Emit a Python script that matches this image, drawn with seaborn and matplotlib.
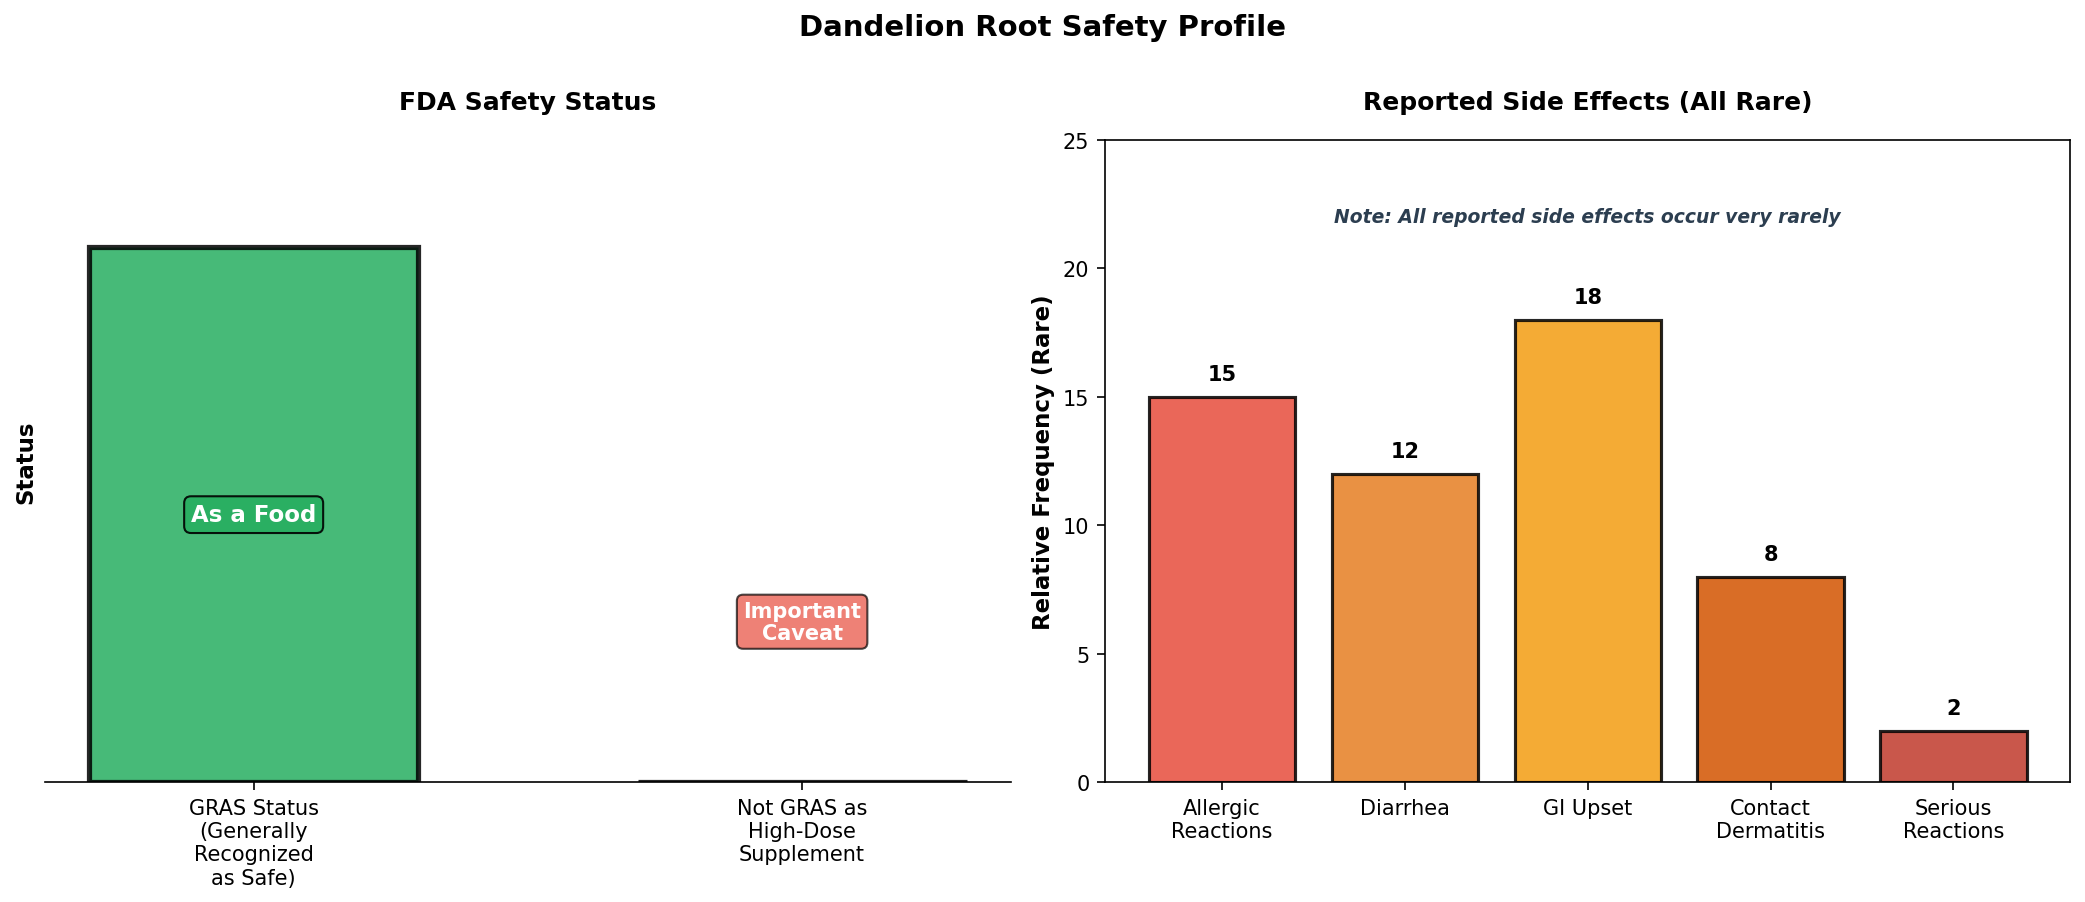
import numpy as np
import pandas as pd
import matplotlib
matplotlib.use("Agg")
import matplotlib.pyplot as plt
import seaborn as sns

# data
status_labels = ["GRAS Status\n(Generally\nRecognized\nas Safe)", "Not GRAS as\nHigh-Dose\nSupplement"]
status_values = [1, 0]
status_colors = ["#27ae60", "#e74c3c"]

effects = ["Allergic\nReactions", "Diarrhea", "GI Upset", "Contact\nDermatitis", "Serious\nReactions"]
effect_freq = [15, 12, 18, 8, 2]
effect_colors = ["#e74c3c", "#e67e22", "#f39c12", "#d35400", "#c0392b"]

sns.set_style("white")
plt.rcParams["font.family"] = ["DejaVu Sans"]
for k in ["text.color", "axes.labelcolor", "xtick.color", "ytick.color", "axes.edgecolor"]:
    plt.rcParams[k] = "black"

fig, (ax1, ax2) = plt.subplots(1, 2, figsize=(13.9, 6.02), dpi=150)

# left panel
df1 = pd.DataFrame({"label": status_labels, "value": status_values})
sns.barplot(data=df1, x="label", y="value", hue="label", palette=status_colors,
            width=0.6, alpha=0.85, saturation=1, edgecolor="black", linewidth=2.5,
            legend=False, ax=ax1)
ax1.set_ylim(0, 1.2)
ax1.set_xlim(-0.38, 1.38)
ax1.set_yticks([])
ax1.set_xlabel("")
ax1.set_ylabel("Status", fontsize=11, fontweight="bold")
ax1.set_title("FDA Safety Status", fontsize=12, fontweight="bold", pad=15)
sns.despine(ax=ax1, left=True)
ax1.tick_params(axis="x", labelsize=10, length=4, bottom=True)
ax1.text(0, 0.5, "As a Food", ha="center", va="center", fontsize=11,
         fontweight="bold", color="white",
         bbox=dict(boxstyle="round,pad=0.3", facecolor="#27ae60", alpha=0.9,
                   edgecolor="black"))
ax1.text(1, 0.3, "Important\nCaveat", ha="center", va="center", fontsize=10,
         fontweight="bold", color="white", linespacing=1.1,
         bbox=dict(boxstyle="round,pad=0.3", facecolor="#e74c3c", alpha=0.7,
                   edgecolor="black"))

# right panel
df2 = pd.DataFrame({"effect": effects, "freq": effect_freq})
sns.barplot(data=df2, x="effect", y="freq", hue="effect", palette=effect_colors,
            width=0.8, alpha=0.85, saturation=1, edgecolor="black", linewidth=1.5,
            legend=False, ax=ax2)
for i, v in enumerate(effect_freq):
    ax2.text(i, v + 0.5, str(v), ha="center", va="bottom", fontsize=10,
             fontweight="bold")
ax2.set_ylim(0, 25)
ax2.set_xlim(-0.64, 4.64)
ax2.set_xlabel("")
ax2.set_ylabel("Relative Frequency (Rare)", fontsize=11, fontweight="bold")
ax2.set_title("Reported Side Effects (All Rare)", fontsize=12, fontweight="bold", pad=15)
ax2.tick_params(axis="both", labelsize=10, length=4, left=True, bottom=True)
ax2.text(2, 22, "Note: All reported side effects occur very rarely", ha="center",
         va="center", fontsize=9, style="italic", fontweight="bold",
         color="#2c3e50")

fig.suptitle("Dandelion Root Safety Profile", fontsize=14, fontweight="bold", y=0.985)
plt.subplots_adjust(left=0.0217, right=0.993, wspace=0.098, top=0.844, bottom=0.1325)
plt.savefig("out.png", dpi=150)
